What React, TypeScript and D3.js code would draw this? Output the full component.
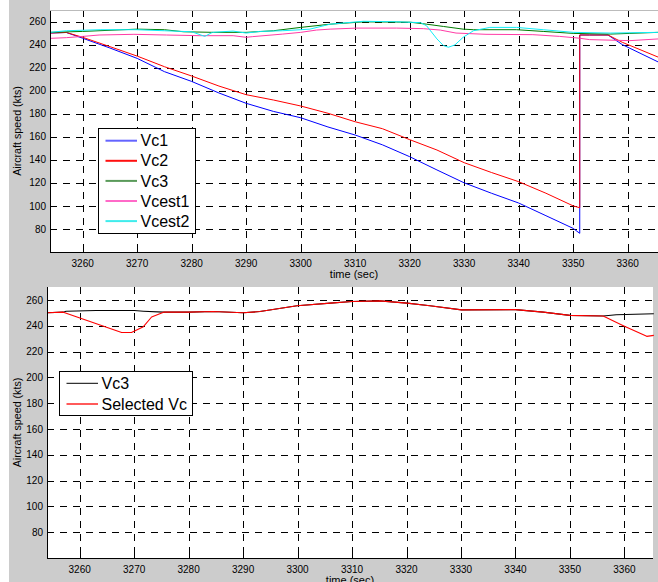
import React from 'react';
import * as d3 from 'd3';

// ---------- data ----------
const xTicks = [3260, 3270, 3280, 3290, 3300, 3310, 3320, 3330, 3340, 3350, 3360];
const yTicks = [80, 100, 120, 140, 160, 180, 200, 220, 240, 260];

// top plot
const vc1T = [3254, 3257, 3260, 3265, 3270, 3275, 3280, 3285, 3290, 3295, 3300, 3305, 3310, 3315, 3320, 3325, 3330, 3335, 3340, 3345, 3350, 3351.2, 3351.2, 3353, 3356.4, 3359, 3365.6];
const vc1V = [250, 250.5, 245.5, 237, 228, 216.5, 208, 198, 189, 182, 176.5, 168.5, 161.5, 153, 142.7, 131.2, 120, 111, 102.5, 91.5, 80.5, 76.2, 248.3, 248.3, 248.3, 240, 224.9];

const vc2T = [3254, 3257, 3260, 3265, 3270, 3275, 3280, 3285, 3290, 3295, 3300, 3305, 3310, 3315, 3320, 3325, 3330, 3335, 3340, 3345, 3350, 3351.2, 3351.2, 3353, 3356.4, 3359, 3365.6];
const vc2V = [250, 250.5, 246.3, 238.2, 230, 220.8, 212.7, 204, 196.5, 191.9, 186.7, 180.4, 173, 167, 157.5, 148.5, 137.5, 129, 121, 111, 100, 98.4, 248.3, 248.3, 248.3, 242, 229.1];

const vc3T = [3254, 3260, 3270, 3275, 3278.5, 3284, 3290, 3295, 3300, 3305.4, 3311.5, 3317.6, 3320.1, 3323.1, 3326.2, 3329.8, 3331.7, 3339.6, 3344.5, 3350, 3356.8, 3360.4, 3365.6];
const vc3V = [250.6, 251.4, 253.4, 252.9, 251.1, 250.6, 250.6, 252, 254.9, 257.7, 259.7, 259.5, 259.4, 257.7, 255.7, 253.4, 252.9, 252.9, 251.4, 249.7, 249.1, 249.7, 250.6];

const vcest1T = [3254, 3257, 3260.1, 3263, 3269.4, 3275.4, 3281.5, 3287.6, 3290, 3291.2, 3296.7, 3300, 3302.9, 3305.4, 3310.3, 3317.6, 3322.5, 3325.6, 3328.5, 3334, 3342.6, 3347.5, 3351.2, 3353, 3360.4, 3365.6];
const vcest1V = [245.4, 246, 247.1, 248.3, 248.9, 248.3, 247.7, 247.7, 246.3, 246.9, 249.1, 250.6, 252.6, 253.4, 254.3, 254.3, 253.8, 252.6, 250, 248.9, 248.6, 247.1, 245.5, 244.3, 243.4, 244.9];

const vcest2T = [3254, 3257, 3263.2, 3269.9, 3275, 3280, 3282.4, 3283.8, 3287.6, 3290, 3292.5, 3296.7, 3300, 3301.7, 3305.4, 3311.5, 3317.6, 3322, 3323.1, 3325, 3326.2, 3327.1, 3328.3, 3329.8, 3331.7, 3334.7, 3339.6, 3344.5, 3350, 3356.8, 3365.6];
const vcest2V = [250.6, 252, 252.9, 252.9, 252, 251.1, 247.1, 250.6, 251.7, 250, 251.4, 252, 252.9, 253.4, 257.7, 260.2, 259.8, 259, 256.3, 244.9, 239.1, 237.7, 239.7, 246.3, 252, 254.9, 254.9, 252.9, 250.6, 250, 250.6];

// bottom plot
const bVc3T = [3254, 3257, 3257.5, 3263, 3270, 3271.7, 3275.4, 3280, 3284.5, 3290, 3293.1, 3299.9, 3306, 3310, 3315.1, 3320.1, 3324.3, 3330.1, 3340, 3345.1, 3350, 3356.1, 3358.5, 3365.4];
const bVc3V = [250, 250.5, 251.25, 251.75, 251.75, 251.25, 250.5, 250.5, 251, 250, 251, 255.5, 257.5, 258.75, 259.25, 257.5, 255.5, 252.25, 252.5, 250.5, 248, 247.5, 248.5, 249.25];

const selT = [3254, 3257, 3267.7, 3269.5, 3271.7, 3273.2, 3275.4, 3280, 3284.5, 3290, 3293.1, 3299.9, 3306, 3310, 3315.1, 3320.1, 3324.3, 3330.1, 3340, 3345.1, 3350, 3356.1, 3359.8, 3364.1, 3365.4];
const selV = [250, 250.5, 234.75, 234.75, 239.25, 246.75, 250.5, 250.5, 251, 250, 251, 255.5, 257.5, 258.75, 259.25, 257.5, 255.5, 252.25, 252.5, 250.5, 248, 247.5, 240, 231.75, 232.5];

const topSeries = [
  { name: 'Vc1', t: vc1T, v: vc1V, color: '#0000ff', legend: '#6464ff' },
  { name: 'Vc2', t: vc2T, v: vc2V, color: '#ff0000', legend: '#ff1010' },
  { name: 'Vc3', t: vc3T, v: vc3V, color: '#007a00', legend: '#5a9a5a' },
  { name: 'Vcest1', t: vcest1T, v: vcest1V, color: '#ff3ca6', legend: '#ff6ac8' },
  { name: 'Vcest2', t: vcest2T, v: vcest2V, color: '#10eef8', legend: '#40ecec' },
];
const bottomSeries = [
  { name: 'Vc3', t: bVc3T, v: bVc3V, color: '#000000', legend: '#000000', lw: 1 },
  { name: 'Selected Vc', t: selT, v: selV, color: '#ff0000', legend: '#ff5a5a', lw: 2 },
];

const FONT = '"Liberation Sans", Arial, Helvetica, sans-serif';
const W = 658;
const H = 582;

type Ax = { x0: number; x1: number; y0: number; y1: number; d0: number; d1: number };

function Axes({ ax, series, legend, lineW }: { ax: Ax; series: any[]; legend: { x: number; y: number; w: number; h: number; dy: number; first: number }; lineW: number }) {
  const x = d3.scaleLinear().domain([ax.d0, ax.d1]).range([ax.x0, ax.x1]);
  const y = d3.scaleLinear().domain([60, 270]).range([ax.y1, ax.y0]);
  const line = (t: number[], v: number[]) =>
    d3.line<number>().x((_, i) => x(t[i])).y((d) => y(d))(v) || '';
  const dash = '7,6';
  return (
    <g>
      <rect x={ax.x0} y={ax.y0} width={ax.x1 - ax.x0} height={ax.y1 - ax.y0} fill="#ffffff" />
      {/* grid */}
      {yTicks.map((t) => (
        <line key={'gy' + t} x1={ax.x0} x2={ax.x1} y1={Math.round(y(t)) + 0.5} y2={Math.round(y(t)) + 0.5} stroke="#000" strokeWidth={1} strokeDasharray={dash} />
      ))}
      {xTicks.map((t) => (
        <line key={'gx' + t} x1={Math.round(x(t)) + 0.5} x2={Math.round(x(t)) + 0.5} y1={ax.y0} y2={ax.y1} stroke="#000" strokeWidth={1} strokeDasharray={dash} />
      ))}
      {/* ticks */}
      {xTicks.map((t) => (
        <line key={'tx' + t} x1={Math.round(x(t)) + 0.5} x2={Math.round(x(t)) + 0.5} y1={ax.y1} y2={ax.y1 - 5} stroke="#000" />
      ))}
      {yTicks.map((t) => (
        <line key={'ty' + t} x1={ax.x0} x2={ax.x0 + 5} y1={Math.round(y(t)) + 0.5} y2={Math.round(y(t)) + 0.5} stroke="#000" />
      ))}
      {/* data */}
      {series.map((s) => (
        <path key={s.name} d={line(s.t, s.v)} fill="none" stroke={s.color} strokeWidth={lineW} strokeLinejoin="round" />
      ))}
      {/* axes lines */}
      <line x1={ax.x0 + 0.5} x2={ax.x0 + 0.5} y1={ax.y0} y2={ax.y1 + 0.5} stroke="#000" />
      <line x1={ax.x0} x2={ax.x1} y1={ax.y1 + 0.5} y2={ax.y1 + 0.5} stroke="#000" />
      {/* tick labels */}
      {xTicks.map((t) => (
        <text key={'lx' + t} x={x(t)} y={ax.y1 + 14.5} textAnchor="middle" fontSize={10} fontFamily={FONT}>{t}</text>
      ))}
      {yTicks.map((t) => (
        <text key={'ly' + t} x={ax.x0 - 4} y={y(t) + 3.6} textAnchor="end" fontSize={10} fontFamily={FONT}>{t}</text>
      ))}
      {/* legend */}
      <rect x={legend.x + 0.5} y={legend.y + 0.5} width={legend.w} height={legend.h} fill="#fff" stroke="#000" />
      {series.map((s, i) => (
        <g key={'lg' + s.name}>
          <line x1={legend.x + 7.5} x2={legend.x + 39} y1={legend.first + i * legend.dy} y2={legend.first + i * legend.dy} stroke={s.legend} strokeWidth={s.lw ?? 2} />
          <text x={legend.x + 42.5} y={legend.first + i * legend.dy + 5.6} fontSize={16} fontFamily={FONT}>{s.name}</text>
        </g>
      ))}
    </g>
  );
}

export default function App() {
  const topAx: Ax = { x0: 50, x1: 658, y0: 10, y1: 252, d0: 3254, d1: 3365.56 };
  const botAx: Ax = { x0: 47, x1: 653, y0: 287, y1: 558, d0: 3254, d1: 3365.25 };
  return (
    <svg width={W} height={H} style={{ position: 'absolute', left: 0, top: 0, display: 'block' }}>
      <rect x={0} y={0} width={W} height={H} fill="#ffffff" />
      <rect x={9} y={0} width={W - 9} height={H} fill="#cccccc" />
      <rect x={50} y={0} width={W - 50} height={10} fill="#ffffff" />
      <Axes ax={topAx} series={topSeries} lineW={1} legend={{ x: 98, y: 128, w: 97, h: 105, dy: 20.1, first: 140.7 }} />
      <line x1={50} x2={658} y1={10.5} y2={10.5} stroke="#bbbbbb" />
      <Axes ax={botAx} series={bottomSeries} lineW={1.1} legend={{ x: 59, y: 371, w: 133, h: 44, dy: 20.7, first: 383.3 }} />
      <text x={354} y={277.5} textAnchor="middle" fontSize={11} fontFamily={FONT}>time (sec)</text>
      <text x={350} y={584} textAnchor="middle" fontSize={11} fontFamily={FONT}>time (sec)</text>
      <text transform="translate(21,131) rotate(-90)" textAnchor="middle" fontSize={10.7} fontFamily={FONT}>Aircraft speed (kts)</text>
      <text transform="translate(21,422.5) rotate(-90)" textAnchor="middle" fontSize={10.7} fontFamily={FONT}>Aircraft speed (kts)</text>
    </svg>
  );
}
